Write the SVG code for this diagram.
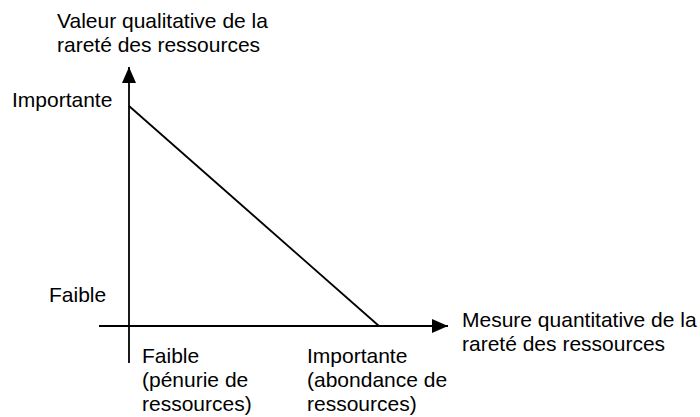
<svg xmlns="http://www.w3.org/2000/svg" width="700" height="417" viewBox="0 0 700 417">
<style>
text{font-family:"Liberation Sans",Arial,sans-serif;font-size:21px;fill:#000}
.ax{stroke:#000;stroke-width:1.8;fill:none}
</style>
<defs>
<marker id="ah" viewBox="0 0 16 14" refX="16" refY="7" markerWidth="16" markerHeight="14" markerUnits="userSpaceOnUse" orient="auto">
<path d="M0,0 L16,7 L0,14 Z" fill="#000"/>
</marker>
</defs>
<rect width="700" height="417" fill="#fff"/>
<g id="connectors">
<line class="ax" x1="129" y1="363" x2="129" y2="67" marker-end="url(#ah)"/>
<line class="ax" x1="99" y1="326" x2="448" y2="326" marker-end="url(#ah)"/>
<line class="ax" x1="129" y1="106" x2="379" y2="326"/>
</g>
<g id="y-axis-label">
<text x="57" y="28">Valeur qualitative de la</text>
<text x="57" y="52">rareté des ressources</text>
</g>
<g id="y-high"><text x="12" y="107">Importante</text></g>
<g id="y-low"><text x="49" y="302">Faible</text></g>
<g id="x-axis-label">
<text x="462" y="327">Mesure quantitative de la</text>
<text x="462" y="351">rareté des ressources</text>
</g>
<g id="x-low">
<text x="142" y="363">Faible</text>
<text x="142" y="387">(pénurie de</text>
<text x="142" y="411">ressources)</text>
</g>
<g id="x-high">
<text x="307" y="363">Importante</text>
<text x="307" y="387">(abondance de</text>
<text x="307" y="411">ressources)</text>
</g>
</svg>
